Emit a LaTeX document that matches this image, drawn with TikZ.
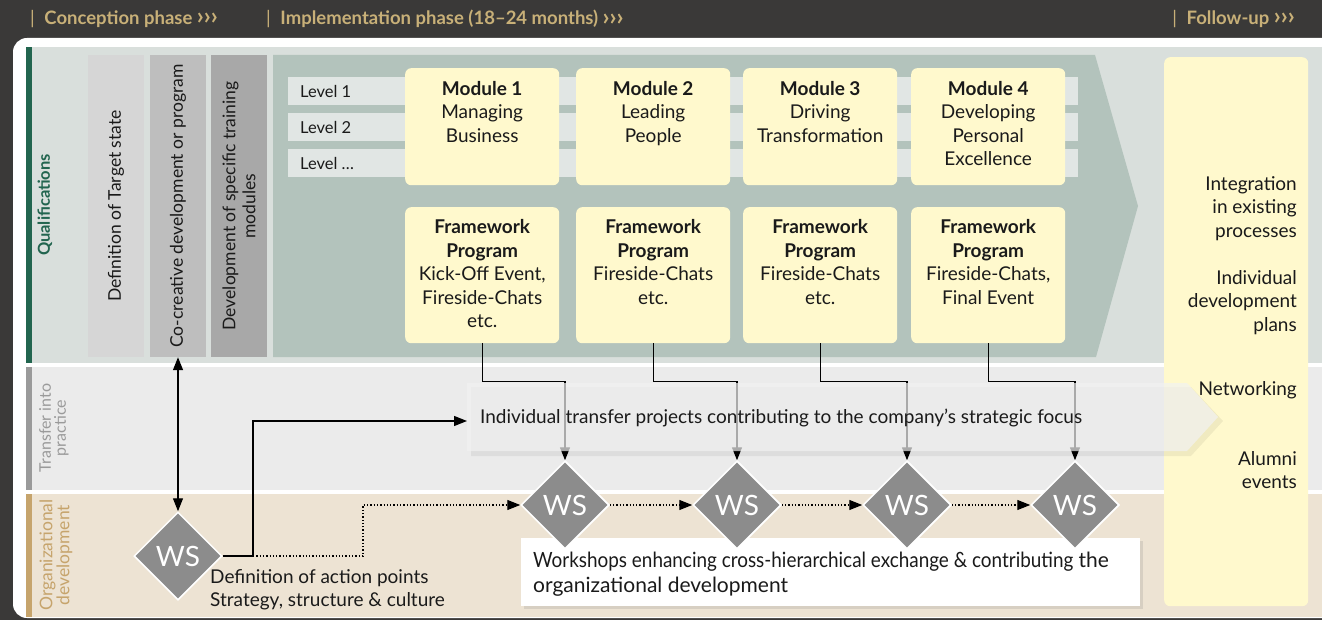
\documentclass[tikz,border=0pt]{standalone}
\usepackage{fontspec}
\usepackage{graphicx}
\setmainfont{Lato}
\usetikzlibrary{shapes.geometric,arrows.meta,shadows,calc}
\definecolor{bgdark}{HTML}{3A3938}
\definecolor{headtan}{HTML}{C8B078}
\definecolor{qualbg}{HTML}{D9DFDC}
\definecolor{transbg}{HTML}{EBEBEB}
\definecolor{orgbg}{HTML}{EDE3D3}
\definecolor{qualgreen}{HTML}{22654F}
\definecolor{transgray}{HTML}{9A9A9A}
\definecolor{orgtan}{HTML}{C6A46C}
\definecolor{colA}{HTML}{D6D6D6}
\definecolor{colB}{HTML}{BEBEBE}
\definecolor{colC}{HTML}{A8A8A8}
\definecolor{arrowgreen}{HTML}{B3C3BC}
\definecolor{levelbar}{HTML}{E1E6E4}
\definecolor{yellowbox}{HTML}{FFF9CD}
\definecolor{wsgray}{HTML}{8C8C8C}
\definecolor{txt}{HTML}{1A1A1A}
\newcommand{\chev}{\raisebox{-0.5pt}{\scalebox{1.3}{›››}}}
\begin{document}
\begin{tikzpicture}[x=1pt,y=-1pt,
  body/.style={text=txt,font=\fontsize{19}{23.5}\selectfont,inner sep=0pt},
  ybox/.style={fill=yellowbox,rounded corners=6pt,draw=none,inner sep=0pt},
  colbox/.style={draw=none,inner sep=0pt,minimum width=56,minimum height=302},
  levelbox/.style={fill=levelbar,draw=none,inner sep=0pt,anchor=north west,minimum width=790,minimum height=28},
  wsdiamond/.style={diamond,aspect=1,fill=wsgray,draw=white,line width=1.5pt,inner sep=0pt,minimum size=88,text=white,font=\fontsize{28}{28}\selectfont},
  conn/.style={line width=1.3pt,draw=black},
  tip/.style={-{Triangle[length=13pt,width=10pt]}},
  head/.style={text=headtan,font=\bfseries\fontsize{18.5}{20}\selectfont,anchor=west,inner sep=0pt},
  rowlabel/.style={rotate=90,align=center,inner sep=0pt,font=\fontsize{16.5}{16}\selectfont}
]
\useasboundingbox (0,0) rectangle (1322,620);
\clip (0,0) rectangle (1322,620);
\fill[bgdark] (0,0) rectangle (1322,620);
% header
\node[head] (h1) at (30,19) {{\mdseries|}\; Conception phase \chev};
\node[head] (h2) at (266,19) {{\mdseries|}\; Implementation phase (18–24 months) \chev};
\node[head,anchor=east] (h3) at (1295,19) {{\mdseries|}\; Follow-up \chev};
% panel
\fill[white,rounded corners=14pt] (13,38) rectangle (1340,618);
\fill[qualbg] (26,47) rectangle (1322,363);
\fill[transbg] (26,367) rectangle (1322,490);
\fill[orgbg] (26,494) rectangle (1322,617);
\fill[qualgreen] (26,47) rectangle (32,363);
\fill[transgray] (26,367) rectangle (32,490);
\fill[orgtan] (26,494) rectangle (32,617);
\node[rowlabel,text=qualgreen,font=\bfseries\fontsize{16.5}{16}\selectfont] (lq) at (45,205) {Qualifications};
\node[rowlabel,text=transgray,font=\fontsize{16}{15}\selectfont] (lt) at (54,428) {Transfer into\\practice};
\node[rowlabel,text=orgtan,font=\fontsize{17.5}{17}\selectfont] (lo) at (56,555) {Organizational\\development};
% columns
\node[colbox,fill=colA] (cA) at (116,206) {};
\node[colbox,fill=colB] (cB) at (178,206) {};
\node[colbox,fill=colC] (cC) at (239,206) {};
\node[body,rotate=90,font=\fontsize{17.5}{20}\selectfont] (tA) at (cA) {Definition of Target state};
\node[body,rotate=90,font=\fontsize{17.5}{20}\selectfont] (tB) at (cB) {Co-creative development or program};
\node[body,rotate=90,align=center,font=\fontsize{17.5}{20}\selectfont] (tC) at (cC) {Development of specific training\\modules};
% big arrow
\fill[arrowgreen] (273,55) -- (1095,55) -- (1138,206) -- (1096,357) -- (273,357) -- cycle;
% levels
\node[levelbox] (L1) at (288,77) {};
\node[levelbox] (L2) at (288,113) {};
\node[levelbox] (L3) at (288,149) {};
\node[body,anchor=west,font=\fontsize{16.5}{18}\selectfont] (L1t) at (300,91.5) {Level 1};
\node[body,anchor=west,font=\fontsize{16.5}{18}\selectfont] (L2t) at (300,127.5) {Level 2};
\node[body,anchor=west,font=\fontsize{16.5}{18}\selectfont] (L3t) at (300,163.5) {Level …};
% modules
\foreach \i/\x in {1/405,2/576,3/743,4/911}{
  \node[ybox,anchor=north west,minimum width=154,minimum height=117] (m\i) at (\x,68) {};
  \node[ybox,anchor=north west,minimum width=154,minimum height=136] (f\i) at (\x,207) {};
}
\node[body,align=center,anchor=north] (m1t) at ($(m1.north)+(0,13)$) {\textbf{Module 1}\\Managing\\Business};
\node[body,align=center,anchor=north] (m2t) at ($(m2.north)+(0,13)$) {\textbf{Module 2}\\Leading\\People};
\node[body,align=center,anchor=north] (m3t) at ($(m3.north)+(0,13)$) {\textbf{Module 3}\\Driving\\Transformation};
\node[body,align=center,anchor=north] (m4t) at ($(m4.north)+(0,13)$) {\textbf{Module 4}\\Developing\\Personal\\Excellence};
\node[body,align=center,anchor=north] (f1t) at ($(f1.north)+(0,12.5)$) {\textbf{Framework}\\\textbf{Program}\\Kick-Off Event,\\Fireside-Chats\\etc.};
\node[body,align=center,anchor=north] (f2t) at ($(f2.north)+(0,12.5)$) {\textbf{Framework}\\\textbf{Program}\\Fireside-Chats\\etc.};
\node[body,align=center,anchor=north] (f3t) at ($(f3.north)+(0,12.5)$) {\textbf{Framework}\\\textbf{Program}\\Fireside-Chats\\etc.};
\node[body,align=center,anchor=north] (f4t) at ($(f4.north)+(0,12.5)$) {\textbf{Framework}\\\textbf{Program}\\Fireside-Chats,\\Final Event};
% follow-up box
\node[ybox,anchor=north west,minimum width=144,minimum height=549] (fu) at (1164,57) {};
\node[body,align=right,anchor=north east] (fu1) at (1297,176) {Integration\\in existing\\processes};
\node[body,align=right,anchor=north east] (fu2) at (1297,270) {Individual\\development\\plans};
\node[body,align=right,anchor=north east] (fu3) at (1297,381) {Networking};
\node[body,align=right,anchor=north east] (fu4) at (1297,451) {Alumni\\events};
% diamonds
\node[wsdiamond] (ws0) at (178,556) {WS};
\node[wsdiamond] (ws1) at (565,505) {WS};
\node[wsdiamond] (ws2) at (737,505) {WS};
\node[wsdiamond] (ws3) at (907,505) {WS};
\node[wsdiamond] (ws4) at (1075,505) {WS};
% framework connectors
\foreach \i in {1,2,3,4}{
  \draw[conn,tip] (f\i.south) -- ++(0,38) -| (ws\i.north);
}
% transfer arrow (translucent)
\fill[black,opacity=0.06] (471,387) -- (1191,387) -- (1223,421) -- (1191,456) -- (471,456) -- cycle;
\fill[black!5,opacity=0.7] (467,383) -- (1187,383) -- (1218,417) -- (1187,451) -- (467,451) -- cycle;
\coordinate (trin) at (467,421);
\node[body,anchor=west] (trt) at (480,418) {Individual transfer projects contributing to the company's strategic focus};
% WS0 connectors
\coordinate (split) at (253,556);
\coordinate (dstep) at (363,556);
\draw[conn] (ws0.east) -- (split);
\draw[conn,tip] (split) |- (trin);
\draw[conn,dotted,tip] (split) -- (dstep) |- (ws1.west);
\draw[conn,{Triangle[length=13pt,width=10pt]}-{Triangle[length=13pt,width=10pt]}] (cB.south) -- (ws0.north);
\foreach \a/\b in {1/2,2/3,3/4}{
  \draw[conn,dotted,tip] (ws\a.east) -- (ws\b.west);
}
% workshop box
\node[fill=white,draw=none,anchor=north west,minimum width=619,minimum height=68,inner sep=0pt,
  drop shadow={shadow xshift=3pt,shadow yshift=-3pt,opacity=0.2}] (wsb) at (521,538) {};
% redraw diamonds on top of box
\foreach \i in {1,2,3,4}{
  \node[wsdiamond] at (ws\i) {WS};
}
\node[body,anchor=north west,align=left,font=\fontsize{21}{25}\selectfont] (wsbt) at (533,552) {\scalebox{0.9}[1]{Workshops enhancing cross-hierarchical exchange \& contributing} the\\organizational development};
\node[body,anchor=north west,align=left] (ws0t) at (210,569) {Definition of action points\\Strategy, structure \& culture};
\end{tikzpicture}
\end{document}
